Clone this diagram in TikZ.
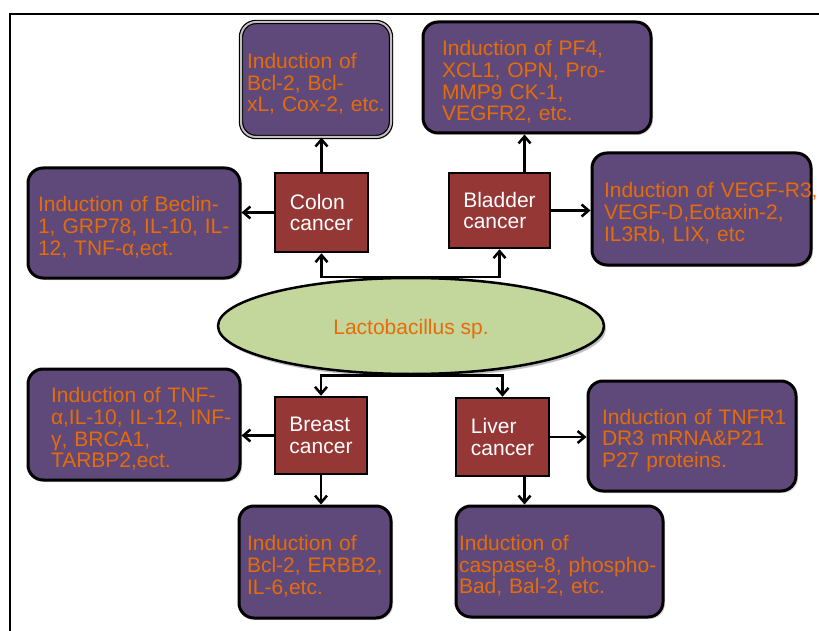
\documentclass[tikz,border=0pt]{standalone}
\usepackage{fontspec}
\setmainfont{Liberation Sans}
\usetikzlibrary{shapes.geometric,arrows.meta,shadows}
\definecolor{boxpurple}{HTML}{5F497A}
\definecolor{txtorange}{HTML}{E46C0A}
\definecolor{cancerred}{HTML}{953735}
\definecolor{lactogreen}{HTML}{C3D69B}
\newcommand{\topline}{\rule{0pt}{24pt}}
\begin{document}
\begin{tikzpicture}[x=1pt, y=-1pt,
  effect/.style={draw, line width=3pt, rounded corners=15pt, fill=boxpurple,
    text=txtorange, align=left, font=\fontsize{21}{21.7}\selectfont,
    execute at begin node=\topline,
    drop shadow={shadow xshift=2pt, shadow yshift=-2pt, opacity=0.3}},
  cancer/.style={draw, line width=2.5pt, fill=cancerred, text=white, align=left,
    font=\fontsize{21}{21.7}\selectfont, execute at begin node=\topline},
  arr/.style={line width=2.5pt, -{Straight Barb[length=7pt,width=12pt]}}]
\useasboundingbox (0,0) rectangle (819,631);
\clip (0,0) rectangle (819,631);
\draw[line width=2.5pt] (10,14) rectangle (850,660);
% probiotic in the middle
\node[ellipse, draw, line width=2.5pt, fill=lactogreen, minimum width=386pt, minimum height=96pt,
  text=txtorange, font=\fontsize{21}{21.7}\selectfont, execute at begin node=\rule{0pt}{21pt},
  drop shadow={shadow xshift=2pt, shadow yshift=-3pt, opacity=0.5}] (lacto) at (411,326) {Lactobacillus sp.};
% colon
\node[cancer, minimum width=93pt, minimum height=79pt] (colon) at (321.5,212.5) {Colon\\cancer};
\node[effect, minimum height=115pt, inner xsep=6pt, text width=138pt,
  double=gray!50, double distance=2pt, line width=1.2pt] (colonup) at (316,79.5)
  {Induction of\\Bcl-2, Bcl-\\xL, Cox-2, etc.};
\node[effect, minimum height=110pt, inner xsep=10pt, text width=192pt] (colonleft) at (134,223)
  {Induction of Beclin-\\1, GRP78, IL-10, IL-\\12, TNF-α,ect.};
% bladder
\node[cancer, minimum width=101pt, minimum height=75pt] (bladder) at (499.5,210.5) {Bladder\\cancer};
\node[effect, minimum height=111pt, inner xsep=19pt, text width=190pt] (bladderup) at (537,77.5)
  {Induction of PF4,\\XCL1, OPN, Pro-\\MMP9 CK-1,\\VEGFR2, etc.};
\node[effect, minimum height=112pt, inner xsep=12pt, text width=195pt] (bladderright) at (701.5,209)
  {\mbox{Induction of VEGF-R3,}\\VEGF-D,Eotaxin-2,\\IL3Rb, LIX, etc};
% breast
\node[cancer, minimum width=92pt, minimum height=77pt] (breast) at (321,435.5) {Breast\\cancer};
\node[effect, minimum height=111pt, inner xsep=23pt, text width=166pt] (breastleft) at (134,424.5)
  {Induction of TNF-\\\mbox{α,IL-10, IL-12, INF-}\\γ, BRCA1,\\TARBP2,ect.};
\node[effect, minimum height=112pt, inner xsep=8pt, text width=136pt] (breastdown) at (315,562)
  {Induction of\\Bcl-2, ERBB2,\\IL-6,etc.};
% liver
\node[cancer, minimum width=93pt, minimum height=78pt] (liver) at (502.5,437) {Liver\\cancer};
\node[effect, minimum height=110pt, inner xsep=14pt, text width=180pt] (liverright) at (692,436)
  {\mbox{Induction of TNFR1}\\DR3 mRNA\&P21\\P27 proteins.};
\node[effect, minimum height=111pt, inner xsep=3pt, text width=201pt] (liverdown) at (559.5,561.5)
  {Induction of\\caspase-8, phospho-\\Bad, Bal-2, etc.};
% connectors
\draw[arr] (lacto.north) -| (colon.south);
\draw[arr] (lacto.north) -| (bladder.south);
\draw[arr] (lacto.south) -| (breast.north);
\draw[arr] (lacto.south) -| (liver.north);
\draw[arr] (colon.north) -- (colon.north |- colonup.south);
\draw[arr] (colon.west) -- (colon.west -| colonleft.east);
\draw[arr] ([xshift=25pt]bladder.north) -- ([xshift=25pt]bladder.north |- bladderup.south);
\draw[arr] (bladder.east) -- (bladder.east -| bladderright.west);
\draw[arr] (breast.west) -- (breast.west -| breastleft.east);
\draw[arr] (breast.south) -- (breast.south |- breastdown.north);
\draw[arr] (liver.east) -- (liver.east -| liverright.west);
\draw[arr] ([xshift=22pt]liver.south) -- ([xshift=22pt]liver.south |- liverdown.north);
\end{tikzpicture}
\end{document}
